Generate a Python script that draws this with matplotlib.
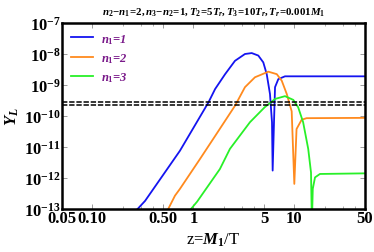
import numpy as np
import matplotlib
matplotlib.use('Agg')
import matplotlib.pyplot as plt
from matplotlib.ticker import FixedLocator, FixedFormatter, NullFormatter

plt.rcParams['font.family'] = 'Liberation Serif'
plt.rcParams['font.weight'] = 'bold'
plt.rcParams['mathtext.fontset'] = 'custom'
plt.rcParams['mathtext.rm'] = 'Liberation Serif:bold'
plt.rcParams['mathtext.it'] = 'Liberation Serif:italic:bold'
plt.rcParams['mathtext.bf'] = 'Liberation Serif:bold'

# z = M1/T and log10(|Y_L|)
z_n1 = [0.28, 0.332, 0.736, 1.41, 1.64, 2.06, 2.58, 3.24, 3.78, 4.39, 4.92, 5.32, 5.73,
        6.00, 6.09, 6.28, 6.43, 6.93, 8.07, 50]
lY_n1 = [-13.0, -12.74, -11.12, -9.56, -9.13, -8.65, -8.22, -8.00, -7.97, -8.05, -8.27, -8.65, -9.29,
         -10.20, -11.76, -10.20, -9.07, -8.81, -8.72, -8.72]

z_n2 = [0.563, 0.657, 0.736, 1.16, 1.57, 2.58, 3.24, 4.07, 5.52, 6.69, 7.49, 8.40, 9.40,
        9.98, 10.5, 11.8, 13.2, 50]
lY_n2 = [-13.0, -12.57, -12.35, -11.39, -10.74, -9.67, -9.07, -8.75, -8.57, -8.65, -8.86, -9.29, -9.85,
         -12.19, -10.42, -10.12, -10.07, -10.06]

z_n3 = [0.946, 1.09, 1.83, 2.30, 3.63, 5.07, 6.43, 8.07, 9.75, 10.9, 12.2, 13.7, 14.6,
        14.9, 15.2, 16.0, 17.9, 50]
lY_n3 = [-13.0, -12.76, -11.71, -11.06, -10.20, -9.72, -9.45, -9.36, -9.48, -9.72, -10.20, -11.06, -11.82,
         -13.5, -12.35, -11.98, -11.87, -11.85]

obs_band = [2.32e-10, 2.77e-10]

xticks = [0.05, 0.10, 0.50, 1, 5, 10, 50]
xticklabels = ['0.05', '0.10', '0.50', '1', '5', '10', '50']
yticks = [1e-13, 1e-12, 1e-11, 1e-10, 1e-9, 1e-8, 1e-7]
yticklabels = [r'$10^{-13}$', r'$10^{-12}$', r'$10^{-11}$', r'$10^{-10}$',
               r'$10^{-9}$', r'$10^{-8}$', r'$10^{-7}$']

fig = plt.figure(figsize=(3.74, 2.53), dpi=100)
ax = fig.add_axes([62/374, 1-210/253, 303/374, 186/253])

series = [
    (z_n1, lY_n1, '#1414f0', r'$n_1$=1'),
    (z_n2, lY_n2, '#ff8a1e', r'$n_1$=2'),
    (z_n3, lY_n3, '#28f028', r'$n_1$=3'),
]
for z, ly, c, lab in series:
    ax.plot(z, 10.0 ** np.array(ly), color=c, lw=1.3, label=lab)

for v in obs_band:
    ax.axhline(v, color='black', lw=1.1, ls=(0, (3.5, 1.2)))

ax.set_xscale('log')
ax.set_yscale('log')
ax.set_xlim(0.05, 50)
ax.set_ylim(1e-13, 1e-7)

ax.xaxis.set_major_locator(FixedLocator(xticks))
ax.xaxis.set_major_formatter(FixedFormatter(xticklabels))
ax.xaxis.set_minor_locator(FixedLocator([0.2, 0.3, 0.4, 2, 3, 4, 20, 30, 40]))
ax.xaxis.set_minor_formatter(NullFormatter())
ax.yaxis.set_major_locator(FixedLocator(yticks))
ax.yaxis.set_major_formatter(FixedFormatter(yticklabels))
ax.yaxis.set_minor_locator(FixedLocator([]))

ax.tick_params(which='both', direction='in', top=True, right=True, color='0.55',
               labelsize=12, pad=1)
ax.tick_params(which='major', length=3.5, width=0.6)
ax.tick_params(which='minor', length=2, width=0.5)

for sp in ax.spines.values():
    sp.set_linewidth(1.8)

ax.set_xlabel(r'z=$M_1$/T', fontsize=12, labelpad=3)
ax.set_ylabel(r'$Y_L$', fontsize=12, labelpad=2)
ax.set_title(r'$n_2\!-\!n_1\!=\!2,n_3\!-\!n_2\!=\!1,T_2\!=\!5T_r,T_3\!=\!10T_r,T_r\!=\!0.001M_1$',
             fontsize=7.8, pad=7)

leg = ax.legend(loc='upper left', frameon=False, fontsize=9, handlelength=1.8,
                handletextpad=0.6, labelspacing=0.45, borderaxespad=0.3)
for t in leg.get_texts():
    t.set_color('#7a1a8a')
    t.set_fontstyle('italic')

fig.savefig('out.png', dpi=100)
